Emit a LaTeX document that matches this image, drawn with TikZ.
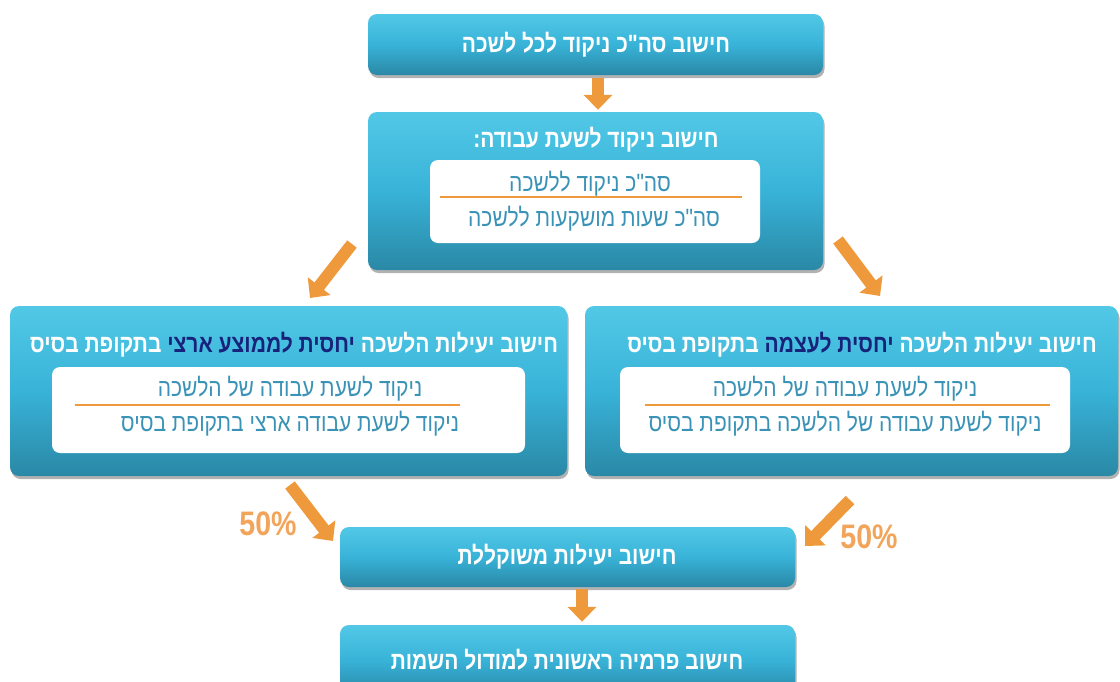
\documentclass[tikz,border=0pt]{standalone}
\usepackage{fontspec}
\setmainfont{Liberation Sans}
\newfontfamily\heb[Script=Hebrew,FakeStretch=0.84]{Liberation Sans}
\newfontfamily\pctfont[FakeStretch=0.84]{Liberation Sans}
\TeXXeTstate=1
\usetikzlibrary{shadows,arrows.meta}
\definecolor{boxtop}{HTML}{52C8E6}
\definecolor{boxmid}{HTML}{38B3D8}
\definecolor{boxbot}{HTML}{2A88A6}
\definecolor{darkblue}{HTML}{17237A}
\definecolor{innertext}{HTML}{3A93B6}
\definecolor{org}{HTML}{EE9A3C}
\definecolor{orgtxt}{HTML}{F2A55A}
\newcommand{\rtl}[1]{\beginR #1\endR}
\tikzset{
  box/.style={rounded corners=9pt, inner sep=0pt, top color=boxtop, bottom color=boxbot, middle color=boxmid,
    drop shadow={shadow xshift=1.5pt, shadow yshift=-3pt, opacity=0.3, fill=black}},
  inner/.style={rounded corners=8pt, fill=white, inner sep=0pt},
  title/.style={font=\heb\bfseries\fontsize{25}{28}\selectfont, text=white, inner sep=0pt},
  ltext/.style={font=\heb\fontsize{25}{28}\selectfont, text=innertext, inner sep=0pt},
  divline/.style={draw=org, line width=2.5pt},
  fat/.style={draw=org, line width=12pt, -{Triangle[width=28pt,length=15pt]}},
  pct/.style={font=\pctfont\bfseries\fontsize{34}{36}\selectfont, text=orgtxt, inner sep=0pt}
}
\begin{document}
\begin{tikzpicture}[x=1pt,y=-1pt]
\useasboundingbox (0,0) rectangle (1120,681);
% boxes
\node[box, minimum width=455pt, minimum height=61pt] (b1) at (595.5,44.5) {};
\node[box, minimum width=455pt, minimum height=158pt] (b2) at (595.5,191) {};
\node[box, minimum width=557pt, minimum height=170pt] (bl) at (288.5,391) {};
\node[box, minimum width=533pt, minimum height=170pt] (br) at (851.5,391) {};
\node[box, minimum width=455pt, minimum height=60pt] (b5) at (567.5,557) {};
\node[box, minimum width=455pt, minimum height=70pt] (b6) at (567.5,660) {};
% inner white boxes
\node[inner, minimum width=330pt, minimum height=83pt] (i2) at (595,201.5) {};
\node[inner, minimum width=473pt, minimum height=86pt] (il) at (288.5,410) {};
\node[inner, minimum width=450pt, minimum height=86pt] (ir) at (845,410) {};
% titles
\node[title] (t1) at (596,45) {\rtl{חישוב סה"כ ניקוד לכל לשכה}};
\node[title] (t2) at (596,140) {\rtl{חישוב ניקוד לשעת עבודה:}};
\node[title] (tl) at (294,345) {\rtl{בתקופת בסיס} {\color{darkblue}\rtl{יחסית לממוצע ארצי}} \rtl{חישוב יעילות הלשכה}};
\node[title] (tr) at (862,345) {\rtl{בתקופת בסיס} {\color{darkblue}\rtl{יחסית לעצמה}} \rtl{חישוב יעילות הלשכה}};
\node[title] (t5) at (567,557) {\rtl{חישוב יעילות משוקללת}};
\node[title] (t6) at (567,660) {\rtl{חישוב פרמיה ראשונית למודול השמות}};
% fractions
\node[ltext] (n2) at (590,184) {\rtl{סה"כ ניקוד ללשכה}};
\node[ltext] (d2) at (594,219) {\rtl{סה"כ שעות מושקעות ללשכה}};
\draw[divline] (440,197) -- (742,197);
\node[ltext] (nl) at (290,389) {\rtl{ניקוד לשעת עבודה של הלשכה}};
\node[ltext] (dl) at (290,424) {\rtl{ניקוד לשעת עבודה ארצי בתקופת בסיס}};
\draw[divline] (75,405) -- (460,405);
\node[ltext] (nr) at (845,389) {\rtl{ניקוד לשעת עבודה של הלשכה}};
\node[ltext] (dr) at (845,424) {\rtl{ניקוד לשעת עבודה של הלשכה בתקופת בסיס}};
\draw[divline] (645,405) -- (1050,405);
% arrows
\coordinate (a1s) at (352,244); \coordinate (a1e) at (310,298);
\coordinate (a2s) at (838,240); \coordinate (a2e) at (880,296);
\coordinate (a3s) at (290,485); \coordinate (a3e) at (333,541);
\coordinate (a4s) at (850,500); \coordinate (a4e) at (805,546);
\draw[fat] ([xshift=2.5pt,yshift=-3pt]b1.south) -- ([xshift=2.5pt,yshift=2pt]b2.north);
\draw[fat] (a1s) -- (a1e);
\draw[fat] (a2s) -- (a2e);
\draw[fat] (a3s) -- (a3e);
\draw[fat] (a4s) -- (a4e);
\draw[fat] ([xshift=14.5pt,yshift=-2pt]b5.south) -- ([xshift=14.5pt,yshift=3pt]b6.north);
% percentages
\node[pct] (p1) at (268,524) {50\%};
\node[pct] (p2) at (869,537) {50\%};
\end{tikzpicture}
\end{document}
